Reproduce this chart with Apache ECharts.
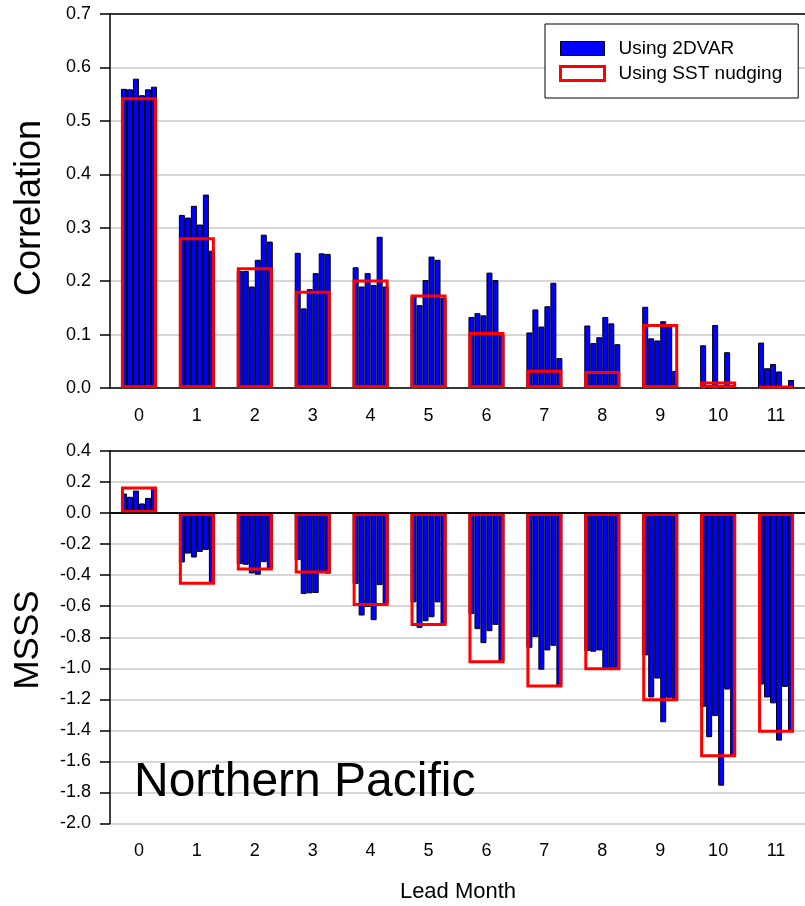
<!DOCTYPE html>
<html>
<head>
<meta charset="utf-8">
<script src="https://cdn.jsdelivr.net/npm/echarts@6/dist/echarts.min.js"></script>
<style>
  html, body { margin: 0; padding: 0; background: #fff; }
  #chart { width: 805px; height: 906px; }
</style>
</head>
<body>
<div id="chart"></div>
<script>
var leadMonths = ['0', '1', '2', '3', '4', '5', '6', '7', '8', '9', '10', '11'];

// correlation, six 2DVAR members per lead month
var corr2dvar = [
    [0.560, 0.559, 0.579, 0.548, 0.559, 0.564],
    [0.324, 0.319, 0.341, 0.306, 0.362, 0.257],
    [0.219, 0.219, 0.190, 0.240, 0.287, 0.274],
    [0.253, 0.149, 0.185, 0.215, 0.252, 0.251],
    [0.226, 0.190, 0.215, 0.193, 0.283, 0.190],
    [0.172, 0.155, 0.202, 0.246, 0.240, 0.169],
    [0.133, 0.140, 0.136, 0.216, 0.202, 0.100],
    [0.104, 0.147, 0.115, 0.153, 0.197, 0.056],
    [0.117, 0.084, 0.095, 0.133, 0.121, 0.082],
    [0.152, 0.093, 0.089, 0.125, 0.115, 0.032],
    [0.080, 0.000, 0.118, 0.000, 0.067, 0.000],
    [0.085, 0.037, 0.045, 0.031, 0.000, 0.015]
];
var corrNudging = [0.544, 0.282, 0.226, 0.182, 0.203, 0.175, 0.105, 0.034, 0.032, 0.120, 0.012, 0.004];

// MSSS, six 2DVAR members per lead month
var msss2dvar = [
    [0.126, 0.105, 0.145, 0.062, 0.098, 0.158],
    [-0.318, -0.261, -0.286, -0.250, -0.237, -0.457],
    [-0.329, -0.333, -0.389, -0.397, -0.316, -0.361],
    [-0.303, -0.521, -0.517, -0.515, -0.385, -0.390],
    [-0.457, -0.660, -0.605, -0.690, -0.464, -0.586],
    [-0.575, -0.739, -0.697, -0.671, -0.575, -0.718],
    [-0.650, -0.748, -0.838, -0.761, -0.720, -0.957],
    [-0.868, -0.799, -1.009, -0.885, -0.855, -1.111],
    [-0.889, -0.893, -0.885, -1.006, -1.006, -1.006],
    [-0.917, -1.188, -1.066, -1.348, -1.190, -1.201],
    [-1.248, -1.444, -1.308, -1.756, -1.137, -1.570],
    [-1.105, -1.188, -1.226, -1.466, -1.120, -1.408]
];
var msssNudging = [0.172, -0.462, -0.370, -0.389, -0.598, -0.727, -0.968, -1.124, -1.013, -1.212, -1.573, -1.415];

var FONT = "'Liberation Sans', Arial, Helvetica, sans-serif";

function memberSeries(groups, xIdx, yIdx, withLegend) {
    var out = [];
    for (var m = 0; m < 6; m++) {
        out.push({
            name: (withLegend && m === 0) ? 'Using 2DVAR' : ('member ' + (m + 1) + '-' + xIdx),
            type: 'bar',
            xAxisIndex: xIdx,
            yAxisIndex: yIdx,
            barWidth: 6,
            barGap: '0%',
            z: 2,
            itemStyle: { color: '#0000ff', borderColor: '#000', borderWidth: 1 },
            data: groups.map(function (g) { return g[m]; })
        });
    }
    return out;
}

function xAxes(gridIdx) {
    return [{
        type: 'category',
        gridIndex: gridIdx,
        data: leadMonths,
        axisLine: { lineStyle: { color: '#000', width: 1.5 } },
        axisTick: { alignWithLabel: true, length: 6, lineStyle: { color: '#000', width: 1.5 } },
        axisLabel: { color: '#000', fontSize: 18, fontFamily: FONT, margin: 19 }
    }, {
        type: 'category',
        gridIndex: gridIdx,
        position: 'top',
        data: leadMonths,
        axisLine: { onZero: false, lineStyle: { color: '#000', width: 1.5 } },
        axisTick: { show: false },
        axisLabel: { show: false }
    }];
}

function yAxis(gridIdx, min, max, step) {
    return {
        type: 'value',
        gridIndex: gridIdx,
        min: min,
        max: max,
        interval: step,
        axisLine: { show: true, lineStyle: { color: '#000', width: 1.5 } },
        axisTick: { show: true, length: 10, lineStyle: { color: '#000', width: 1.5 } },
        axisLabel: {
            color: '#000', fontSize: 18, fontFamily: FONT, margin: 19,
            formatter: function (v) { return v.toFixed(1); }
        },
        splitLine: { lineStyle: { color: '#c8c8c8', width: 1.5 } }
    };
}

var chart = echarts.init(document.getElementById('chart'));

var series = []
    .concat(memberSeries(corr2dvar, 0, 0, true))
    .concat(memberSeries(msss2dvar, 2, 1, false));

series.push({
    name: 'Using SST nudging',
    type: 'bar',
    xAxisIndex: 1,
    yAxisIndex: 0,
    barWidth: 36,
    z: 3,
    itemStyle: { color: 'rgba(0,0,0,0)', borderColor: '#ff0000', borderWidth: 3 },
    data: corrNudging
});
series.push({
    name: 'nudging msss',
    type: 'bar',
    xAxisIndex: 3,
    yAxisIndex: 1,
    barWidth: 36,
    z: 3,
    itemStyle: { color: 'rgba(0,0,0,0)', borderColor: '#ff0000', borderWidth: 3 },
    markLine: {
        silent: true,
        symbol: ['none', 'none'],
        label: { show: false },
        lineStyle: { color: '#000', width: 1.5, type: 'solid' },
        data: [{ yAxis: 0 }]
    },
    data: msssNudging
});

var option = {
    backgroundColor: '#fff',
    animation: false,
    grid: [
        { left: 110, top: 14, width: 703, height: 374 },
        { left: 110, top: 451, width: 703, height: 372.5 }
    ],
    xAxis: xAxes(0).concat(xAxes(1)),
    yAxis: [yAxis(0, 0, 0.7, 0.1), yAxis(1, -2.0, 0.4, 0.2)],
    legend: {
        orient: 'vertical',
        left: 545,
        top: 24,
        padding: [15, 16, 15, 14],
        itemWidth: 44,
        itemHeight: 14,
        itemGap: 6,
        backgroundColor: '#fff',
        borderColor: '#000',
        borderWidth: 1,
        textStyle: { color: '#000', fontSize: 19, fontFamily: FONT, padding: [0, 0, 0, 9] },
        data: [
            { name: 'Using 2DVAR', icon: 'rect',
              itemStyle: { color: '#0000ff', borderColor: '#000', borderWidth: 1 } },
            { name: 'Using SST nudging', icon: 'rect',
              itemStyle: { color: '#fff', borderColor: '#ff0000', borderWidth: 3 } }
        ]
    },
    graphic: [
        { type: 'text', x: 30, y: 208, rotation: Math.PI / 2,
          style: { text: 'Correlation', fill: '#000', font: '36px ' + FONT,
                   textAlign: 'center', textVerticalAlign: 'middle' } },
        { type: 'text', x: 28, y: 640, rotation: Math.PI / 2,
          style: { text: 'MSSS', fill: '#000', font: '35px ' + FONT,
                   textAlign: 'center', textVerticalAlign: 'middle' } },
        { type: 'text', x: 134, y: 783, z: 10,
          style: { text: 'Northern Pacific', fill: '#000', font: '48px ' + FONT,
                   textAlign: 'left', textVerticalAlign: 'middle' } },
        { type: 'text', x: 458, y: 892,
          style: { text: 'Lead Month', fill: '#000', font: '22px ' + FONT,
                   textAlign: 'center', textVerticalAlign: 'middle' } }
    ],
    series: series
};

chart.setOption(option);
</script>
</body>
</html>
